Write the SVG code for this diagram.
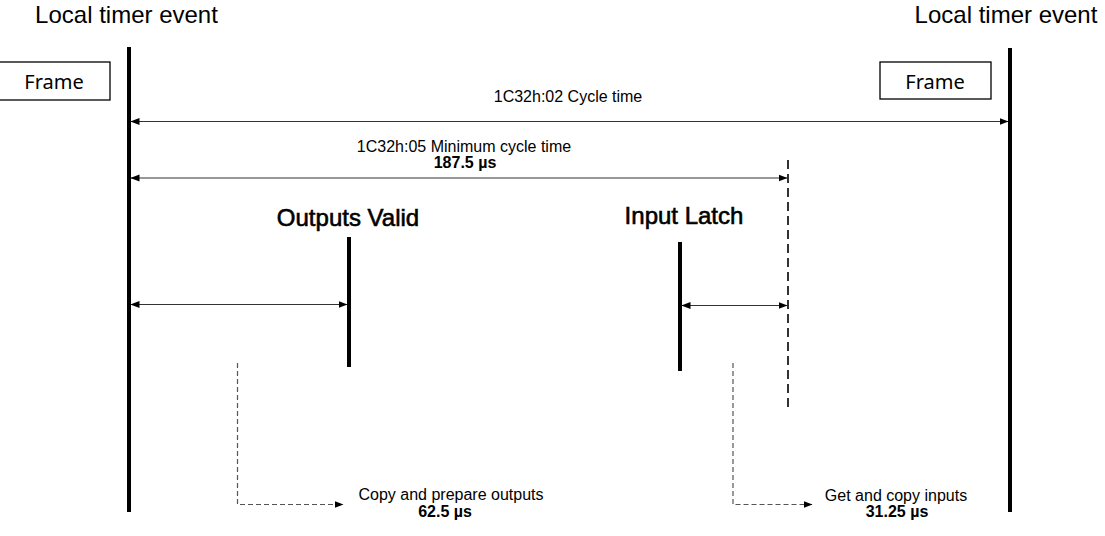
<svg xmlns="http://www.w3.org/2000/svg" width="1105" height="536" viewBox="0 0 1105 536">
<defs>
<marker id="ah" markerWidth="9" markerHeight="8" refX="8.5" refY="4" orient="auto-start-reverse" markerUnits="userSpaceOnUse">
<path d="M0,0.5 L9,4 L0,7.5 Z" fill="#000"/>
</marker>
<style>
.t{font-family:"Liberation Sans",Arial,sans-serif;fill:#000}
.big{font-size:24px}
.hd{stroke:#000;stroke-width:0.6}
.sm{font-size:16px}
.b{font-weight:bold}
.fr{font-family:"Noto Sans","Open Sans",sans-serif;font-size:20px;fill:#000}
.box{fill:#fff;stroke:#000;stroke-width:1.3}
.thick{stroke:#000;stroke-width:4;fill:none}
.dim{stroke:#333;stroke-width:1.2;fill:none}
.dash{stroke:#000;stroke-width:1.6;stroke-dasharray:9,5;fill:none}
.ldash{stroke:#555;stroke-width:1.2;stroke-dasharray:5,3;fill:none}
</style>
</defs>
<rect width="1105" height="536" fill="#fff"/>
<g id="left-event">
<text class="t big" x="126.5" y="23" text-anchor="middle">Local timer event</text>
<line class="thick" x1="129" y1="47" x2="129" y2="512"/>
</g>
<g id="right-event">
<text class="t big" x="1006" y="23" text-anchor="middle">Local timer event</text>
<line class="thick" x1="1010" y1="48" x2="1010" y2="512"/>
</g>
<g id="frame-left">
<rect class="box" x="-1" y="62" width="111" height="38"/>
<text class="fr" x="54" y="89" text-anchor="middle">Frame</text>
</g>
<g id="frame-right">
<rect class="box" x="880" y="62" width="111" height="37"/>
<text class="fr" x="935" y="89" text-anchor="middle">Frame</text>
</g>
<g id="outputs-valid">
<text class="t big hd" x="348" y="226" text-anchor="middle">Outputs Valid</text>
<line class="thick" x1="349" y1="237" x2="349" y2="367"/>
</g>
<g id="input-latch">
<text class="t big hd" x="684" y="224" text-anchor="middle">Input Latch</text>
<line class="thick" x1="680" y1="242" x2="680" y2="371"/>
</g>
<g id="min-cycle-end">
<line class="dash" x1="788" y1="160" x2="788" y2="411"/>
</g>
<g id="labels">
<text class="t sm" x="568" y="102" text-anchor="middle">1C32h:02 Cycle time</text>
<text class="t sm" x="464" y="152" text-anchor="middle">1C32h:05 Minimum cycle time</text>
<text class="t sm b" x="465" y="168" text-anchor="middle">187.5 µs</text>
<text class="t sm" x="451" y="500" text-anchor="middle">Copy and prepare outputs</text>
<text class="t sm b" x="445" y="517" text-anchor="middle">62.5 µs</text>
<text class="t sm" x="896" y="501" text-anchor="middle">Get and copy inputs</text>
<text class="t sm b" x="897" y="517" text-anchor="middle">31.25 µs</text>
</g>
<g id="connectors">
<line class="dim" x1="131" y1="121.5" x2="1008" y2="121.5" marker-start="url(#ah)" marker-end="url(#ah)"/>
<line class="dim" x1="131" y1="178" x2="787" y2="178" marker-start="url(#ah)" marker-end="url(#ah)"/>
<line class="dim" x1="131" y1="304.5" x2="347" y2="304.5" marker-start="url(#ah)" marker-end="url(#ah)"/>
<line class="dim" x1="682" y1="305.5" x2="787" y2="305.5" marker-start="url(#ah)" marker-end="url(#ah)"/>
<path class="ldash" d="M237.5,363 V504.5 H343" marker-end="url(#ah)"/>
<path class="ldash" d="M733,363 V504.5 H812" marker-end="url(#ah)"/>
</g>
</svg>
